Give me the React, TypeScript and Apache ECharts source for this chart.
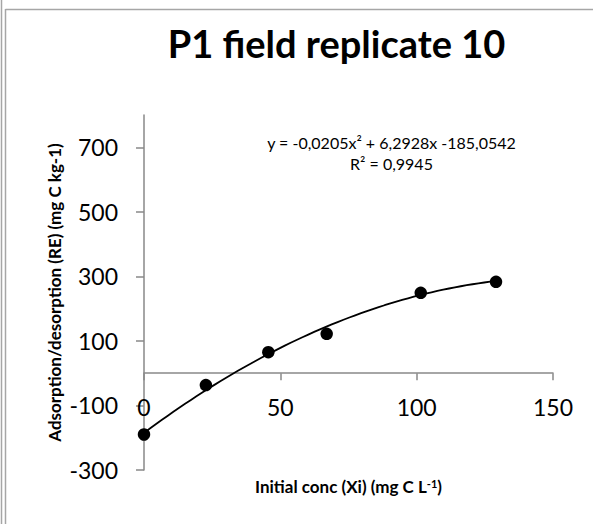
import React, { useEffect, useRef } from 'react';
import * as echarts from 'echarts';

// Measured initial concentration (mg C L-1) and adsorption/desorption (mg C kg-1)
const concXi = [0, 22.7, 45.6, 67.0, 101.5, 129.1];
const adsorptionRE = [-190, -37, 65, 122, 249, 283];

// Second order polynomial trend: y = a x^2 + b x + c
const trendA = -0.0205;
const trendB = 6.2928;
const trendC = -185.0542;
const rSquared = 0.9945;

const xTickValues = [0, 50, 100, 150];
const yTickValues = [-300, -100, 100, 300, 500, 700];
const yAxisMin = -300;
const yAxisMax = 800;

const titleText = 'P1 field replicate 10';
const yAxisTitle = 'Adsorption/desorption (RE) (mg C kg-1)';
const FONT = 'Lato, "Open Sans", sans-serif';

const fmt = (v: number) => Math.abs(v).toFixed(4).replace('.', ',');

export default function App() {
  const ref = useRef<HTMLDivElement>(null);

  useEffect(() => {
    document.body.style.margin = '0';
    if (!ref.current) return;
    const chart = echarts.init(ref.current, undefined, { renderer: 'svg' });

    const xMax = Math.max(...concXi);
    const trend: number[][] = [];
    const steps = 60;
    for (let i = 0; i <= steps; i++) {
      const x = (xMax * i) / steps;
      trend.push([x, trendA * x * x + trendB * x + trendC]);
    }

    const eqLine1 =
      `y = ${trendA < 0 ? '-' : ''}${fmt(trendA)}x² ${trendB < 0 ? '-' : '+'} ${fmt(trendB)}x ${trendC < 0 ? '-' : '+'}${fmt(trendC)}`;
    const eqLine2 = `R² = ${rSquared.toFixed(4).replace('.', ',')}`;

    const axisGrey = '#898989';

    chart.setOption({
      animation: false,
      backgroundColor: '#fff',
      grid: {
        left: 144,
        right: 40,
        top: 115,
        bottom: 54,
        containLabel: false,
        outerBoundsMode: 'none',
      },
      xAxis: {
        type: 'value',
        min: xTickValues[0],
        max: xTickValues[xTickValues.length - 1],
        interval: xTickValues[1] - xTickValues[0],
        axisLine: { onZero: true, lineStyle: { color: axisGrey, width: 1.5 } },
        axisTick: { show: true, length: 7, lineStyle: { color: axisGrey, width: 1.5 } },
        splitLine: { show: false },
        axisLabel: { fontFamily: FONT, fontSize: 23, color: '#000', margin: -75 },
        name: 'Initial conc (Xi) (mg C L{sup|-1})',
        nameLocation: 'middle',
        nameGap: 8,
        nameMoveOverlap: false,
        nameTextStyle: {
          fontFamily: FONT,
          fontSize: 17,
          fontWeight: 'bold',
          color: '#000',
          rich: {
            sup: { fontFamily: FONT, fontSize: 11, fontWeight: 'bold', color: '#000', verticalAlign: 'top', padding: [0, 0, 6, 0] },
          },
        },
      },
      yAxis: {
        type: 'value',
        min: yAxisMin,
        max: yAxisMax,
        axisLine: { show: true, lineStyle: { color: axisGrey, width: 1.5 } },
        axisTick: { show: true, length: 8, customValues: yTickValues, lineStyle: { color: axisGrey, width: 1.5 } },
        splitLine: { show: false },
        axisLabel: {
          fontFamily: FONT,
          fontSize: 23,
          color: '#000',
          margin: 26,
          customValues: yTickValues,
        },
      },
      graphic: [
        { type: 'line', shape: { x1: 1.5, y1: 0, x2: 1.5, y2: 524 }, style: { stroke: '#a6a6a6', lineWidth: 1.5 } },
        { type: 'line', shape: { x1: 5.5, y1: 9, x2: 5.5, y2: 524 }, style: { stroke: '#a6a6a6', lineWidth: 1.5 } },
        { type: 'line', shape: { x1: 5.5, y1: 9.5, x2: 593, y2: 9.5 }, style: { stroke: '#a6a6a6', lineWidth: 1.5 } },
        {
          type: 'text',
          x: 336.5,
          y: 43,
          style: {
            text: titleText,
            fontFamily: FONT,
            fontSize: 38,
            fontWeight: 'bold',
            fill: '#000',
            textAlign: 'center',
            textVerticalAlign: 'middle',
          },
        },
        {
          type: 'text',
          x: 54,
          y: 292.5,
          rotation: Math.PI / 2,
          style: {
            text: yAxisTitle,
            fontFamily: FONT,
            fontSize: 17,
            fontWeight: 'bold',
            fill: '#000',
            textAlign: 'center',
            textVerticalAlign: 'middle',
          },
        },
        {
          type: 'text',
          x: 391.5,
          y: 142,
          style: {
            text: eqLine1,
            fontFamily: FONT,
            fontSize: 16,
            fill: '#000',
            textAlign: 'center',
            textVerticalAlign: 'middle',
          },
        },
        {
          type: 'text',
          x: 391.5,
          y: 163,
          style: {
            text: eqLine2,
            fontFamily: FONT,
            fontSize: 16,
            fill: '#000',
            textAlign: 'center',
            textVerticalAlign: 'middle',
          },
        },
      ],
      series: [
        {
          name: 'Trend',
          type: 'line',
          data: trend,
          showSymbol: false,
          symbol: 'none',
          smooth: false,
          lineStyle: { color: '#000', width: 1.8 },
          z: 2,
        },
        {
          name: 'RE',
          type: 'scatter',
          data: concXi.map((x, i) => [x, adsorptionRE[i]]),
          symbol: 'circle',
          symbolSize: 12.5,
          itemStyle: { color: '#000', opacity: 1 },
          z: 3,
        },
      ],
    });

    return () => chart.dispose();
  }, []);

  return <div ref={ref} style={{ position: 'absolute', left: 0, top: 0, width: 593, height: 524 }} />;
}
